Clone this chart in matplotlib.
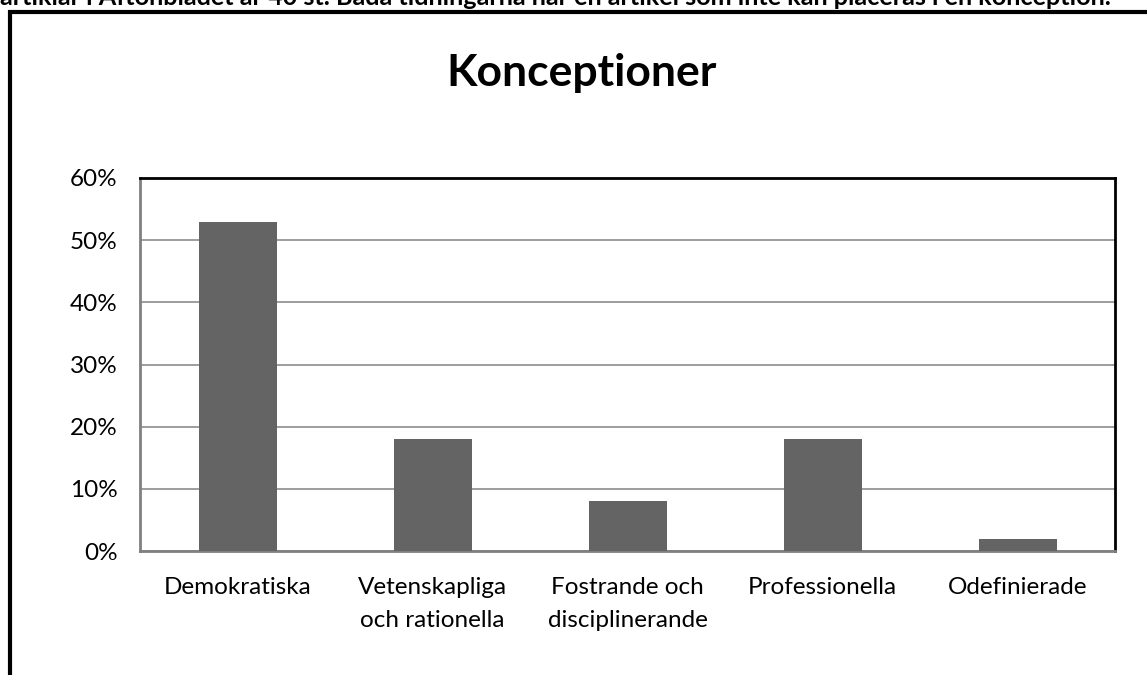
import matplotlib.pyplot as plt
from matplotlib.patches import Rectangle
from matplotlib.ticker import PercentFormatter

plt.rcParams['font.family'] = ['Lato', 'DejaVu Sans']

categories = ['Demokratiska', 'Vetenskapliga\noch rationella', 'Fostrande och\ndisciplinerande',
              'Professionella', 'Odefinierade']
values = [53, 18, 8, 18, 2]
yticks = [0, 10, 20, 30, 40, 50, 60]
title = 'Konceptioner'
caption = 'artiklar i Aftonbladet är 40 st. Båda tidningarna har en artikel som inte kan placeras i en konception.'

W, H = 1147, 675
fig = plt.figure(figsize=(W / 100, H / 100), dpi=100)

# plot area in pixels: x 140-1115, y 178-551
ax = fig.add_axes([140 / W, 1 - 551 / H, 975 / W, 373 / H])

x = range(len(categories))
ax.bar(x, values, width=0.4, color='#646464', zorder=3)
ax.set_xlim(-0.5, len(categories) - 0.5)
ax.set_ylim(0, 60)
ax.set_yticks(yticks)
ax.yaxis.set_major_formatter(PercentFormatter(decimals=0))
ax.set_xticks(list(x))
ax.set_xticklabels(categories, fontsize=17.5, linespacing=1.7, va='top')
ax.tick_params(axis='y', labelsize=17.5, length=0, pad=16)
ax.tick_params(axis='x', length=0, pad=19)
ax.grid(axis='y', color='#8c8c8c', lw=1.2, zorder=0)

for s in ['left', 'bottom']:
    ax.spines[s].set_color('#808080')
    ax.spines[s].set_linewidth(2)
for s in ['top', 'right']:
    ax.spines[s].set_color('black')
    ax.spines[s].set_linewidth(2)

fig.text(582 / W, 1 - 73 / H, title, ha='center', va='center', fontsize=32, fontweight='bold')

# caption line above the chart frame, cut by the top edge as in the source
fig.text(0, 1 - 5 / H, caption, ha='left', va='baseline', fontsize=18.2, fontweight='bold')

# outer chart frame, running off the right and bottom edges
fig.add_artist(Rectangle((10 / W, -0.1), 1.2, 1 - 12 / H + 0.1, transform=fig.transFigure,
                         fill=False, edgecolor='black', lw=3))

fig.savefig('out.png', dpi=100)
